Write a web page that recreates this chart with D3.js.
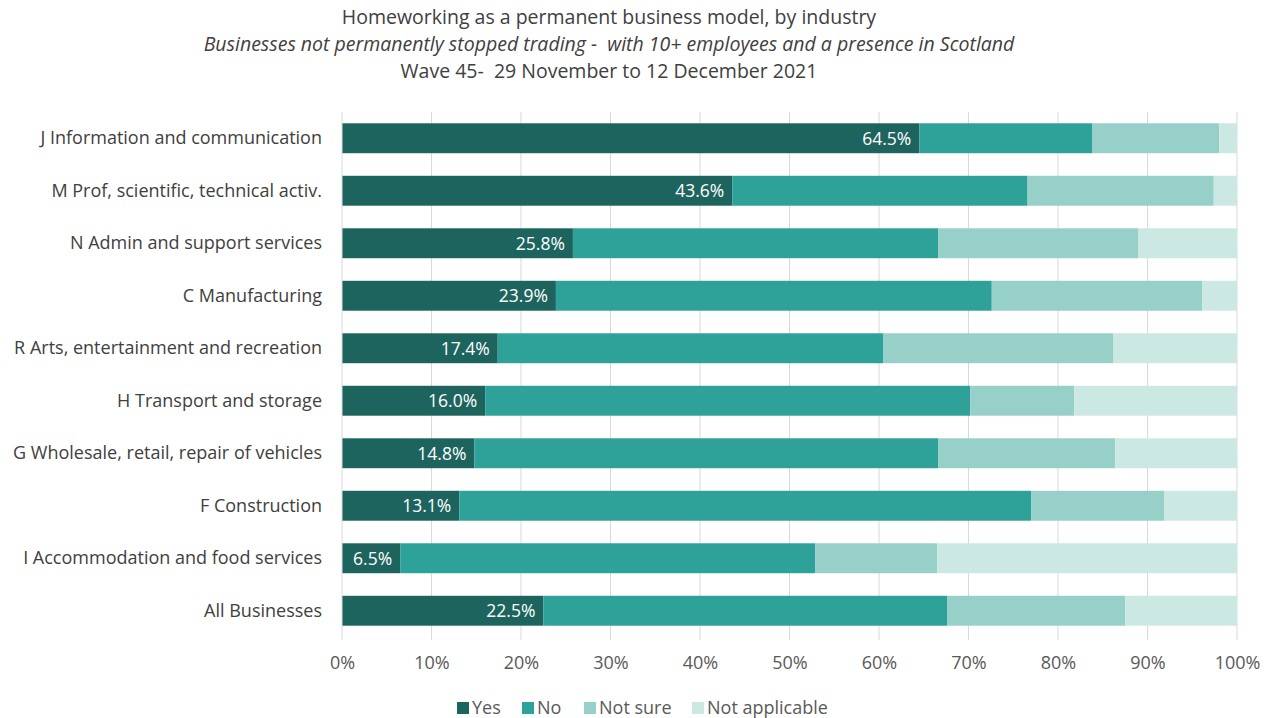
<!DOCTYPE html>
<html>
<head>
<meta charset="utf-8">
<script src="https://cdn.jsdelivr.net/npm/d3@7"></script>
<style>
  body { margin: 0; background: #fff; }
  svg { display: block; font-family: "Open Sans", "Liberation Sans", sans-serif; }
  .title { white-space: pre; }
</style>
</head>
<body>
<svg id="chart" width="1269" height="718"></svg>
<script>
// Industries, top to bottom
const categories = [
  "J Information and communication",
  "M Prof, scientific, technical activ.",
  "N Admin and support services",
  "C Manufacturing",
  "R Arts, entertainment and recreation",
  "H Transport and storage",
  "G Wholesale, retail, repair of vehicles",
  "F Construction",
  "I Accommodation and food services",
  "All Businesses"
];
const seriesNames = ["Yes", "No", "Not sure", "Not applicable"];
// Percent of businesses per answer
const yesValues     = [64.5, 43.6, 25.8, 23.9, 17.4, 16.0, 14.8, 13.1, 6.5, 22.5];
const noValues      = [19.3, 33.0, 40.8, 48.7, 43.1, 54.2, 51.8, 63.9, 46.4, 45.1];
const notSureValues = [14.2, 20.8, 22.4, 23.5, 25.7, 11.6, 19.8, 14.9, 13.6, 19.9];
const notApplValues = [2.0, 2.6, 11.0, 3.9, 13.8, 18.2, 13.6, 8.1, 33.5, 12.5];
const tickValues = [0, 10, 20, 30, 40, 50, 60, 70, 80, 90, 100];
const titleLines = [
  "Homeworking as a permanent business model, by industry",
  "Businesses not permanently stopped trading -  with 10+ employees and a presence in Scotland",
  "Wave 45-  29 November to 12 December 2021"
];
const colors = ["#1e645e", "#2ea298", "#96d0c9", "#cce8e3"];

const rows = categories.map((c, i) => ({
  category: c,
  "Yes": yesValues[i],
  "No": noValues[i],
  "Not sure": notSureValues[i],
  "Not applicable": notApplValues[i]
}));

const svg = d3.select("#chart");
const plotLeft = 342, plotRight = 1237, plotTop = 112, plotBottom = 637;

const x = d3.scaleLinear().domain([0, 100]).range([plotLeft, plotRight]);
const y = d3.scaleBand().domain(categories).range([plotTop, plotBottom])
  .paddingInner(0.43).paddingOuter(0.215);
const color = d3.scaleOrdinal().domain(seriesNames).range(colors);

// Title
svg.append("g").selectAll("text").data(titleLines).join("text")
  .attr("class", "title")
  .attr("x", 609)
  .attr("y", (d, i) => 24 + i * 27)
  .attr("text-anchor", "middle")
  .attr("font-size", 19.5)
  .attr("font-style", (d, i) => i === 1 ? "italic" : "normal")
  .attr("fill", "#404040")
  .text(d => d);

// Vertical gridlines
svg.append("g").selectAll("line").data(tickValues.slice(1)).join("line")
  .attr("x1", d => x(d)).attr("x2", d => x(d))
  .attr("y1", plotTop).attr("y2", plotBottom + 3)
  .attr("stroke", "#d9d9d9").attr("stroke-width", 1);

// Stacked bars
const stacked = d3.stack().keys(seriesNames)(rows);
svg.append("g").selectAll("g").data(stacked).join("g")
  .attr("fill", d => color(d.key))
  .selectAll("rect").data(d => d).join("rect")
  .attr("x", d => x(d[0]))
  .attr("y", d => y(d.data.category))
  .attr("width", d => x(d[1]) - x(d[0]))
  .attr("height", y.bandwidth());

// Category axis line at 0%
svg.append("line")
  .attr("x1", x(0)).attr("x2", x(0))
  .attr("y1", plotTop).attr("y2", plotBottom + 3)
  .attr("stroke", "#d9d9d9");

// Value labels on the Yes segments
svg.append("g").selectAll("text").data(rows).join("text")
  .attr("x", d => x(d["Yes"]) - 8)
  .attr("y", d => y(d.category) + y.bandwidth() / 2)
  .attr("dy", "0.36em")
  .attr("text-anchor", "end")
  .attr("font-size", 17.5)
  .attr("fill", "#ffffff")
  .text(d => d["Yes"].toFixed(1) + "%");

// Category labels
const yAxis = d3.axisLeft(y).tickSize(0).tickPadding(20);
svg.append("g").attr("transform", `translate(${plotLeft},0)`).call(yAxis)
  .call(g => g.select(".domain").remove())
  .selectAll("text")
  .attr("font-size", 18)
  .attr("font-family", "'Open Sans', sans-serif")
  .attr("fill", "#404040");

// Percent axis
const xAxis = d3.axisBottom(x).tickValues(tickValues).tickFormat(d => d + "%").tickSize(0).tickPadding(16);
svg.append("g").attr("transform", `translate(0,${plotBottom + 3})`).call(xAxis)
  .call(g => g.select(".domain").remove())
  .selectAll("text")
  .attr("font-size", 18)
  .attr("font-family", "'Open Sans', sans-serif")
  .attr("fill", "#595959");

// Legend
const legendX = [457, 522, 584, 692];
const legend = svg.append("g").selectAll("g").data(seriesNames).join("g")
  .attr("transform", (d, i) => `translate(${legendX[i]},708)`);
legend.append("rect")
  .attr("x", 0).attr("y", -6).attr("width", 12).attr("height", 12)
  .attr("fill", d => color(d));
legend.append("text")
  .attr("x", 15).attr("dy", "0.36em")
  .attr("font-size", 18)
  .attr("fill", "#595959")
  .text(d => d);
</script>
</body>
</html>
